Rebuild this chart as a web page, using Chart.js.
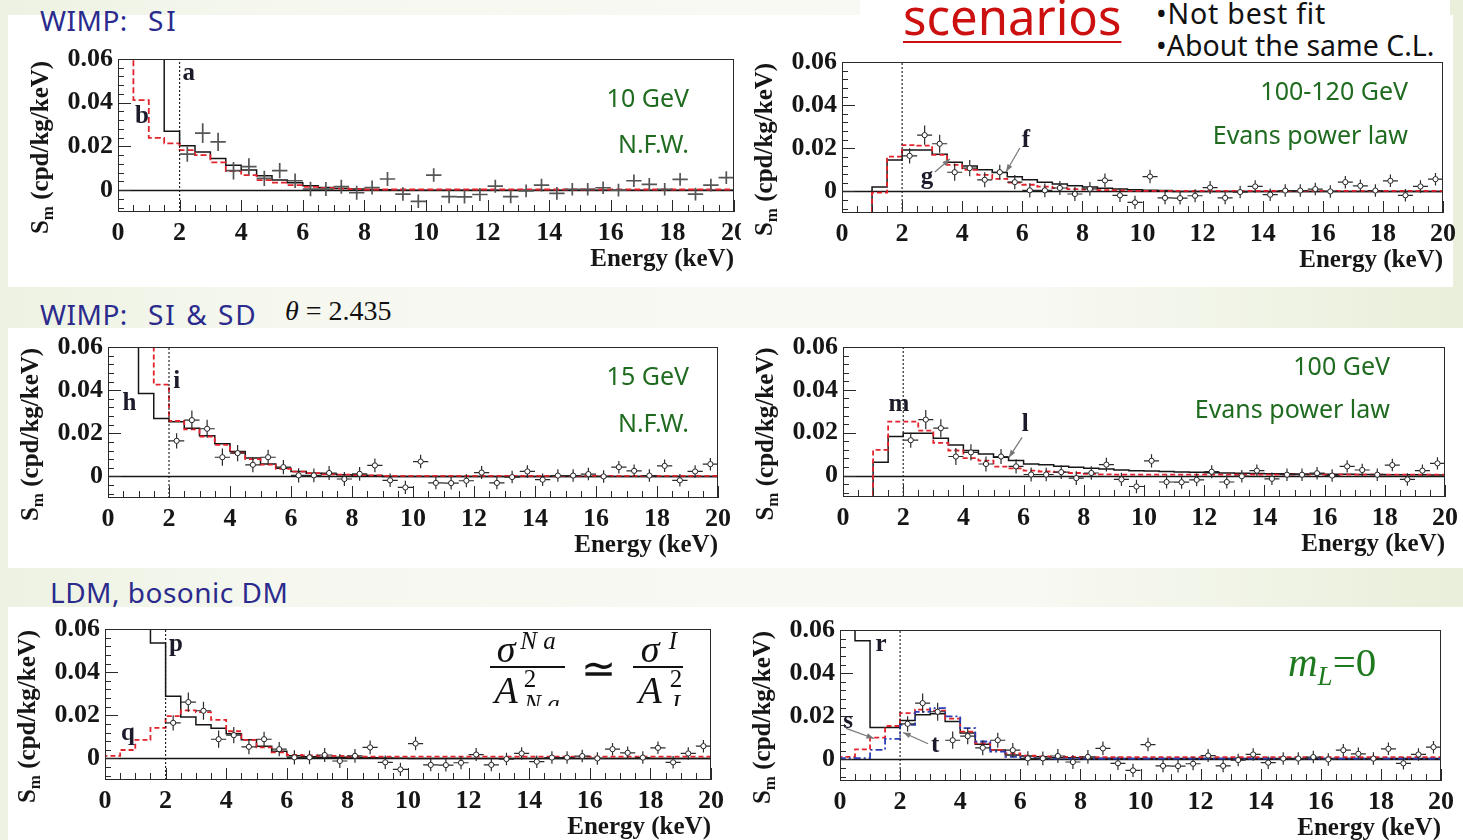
<!DOCTYPE html>
<html>
<head>
<meta charset="utf-8">
<script src="https://cdn.jsdelivr.net/npm/chart.js@4.4.1/dist/chart.umd.min.js"></script>
<style>
  body { margin: 0; width: 1463px; height: 840px; overflow: hidden; position: relative;
         background: linear-gradient(90deg, #edf2e2 0%, #f6f8f0 20%, #f8f9f3 70%, #e9efda 100%);
         font-family: "Noto Sans", sans-serif; }
  .band { position: absolute; background: #fff; }
  .panel { position: absolute; }
  .heading { position: absolute; color: #2b2b8e; font-size: 28px; line-height: 34px; white-space: pre; letter-spacing: 0.5px; }
  .tag { position: absolute; color: #1f6b1f; font-size: 25px; line-height: 30px; white-space: nowrap; text-align: right; }
  .math { position: absolute; font-family: "Liberation Serif", serif; color: #111; }
  .formula { position: absolute; left: 480px; top: 620px; width: 220px; height: 86px; overflow: hidden;
             font-family: "Liberation Serif", serif; color: #111; }
  .formula div { position: absolute; white-space: nowrap; transform: translate(-50%, -50%); }
  .formula .bar { transform: none; height: 2px; background: #111; }
</style>
</head>
<body>
<div class="band" style="left:8px;top:15px;width:1445px;height:272px"></div>
<div class="band" style="left:860px;top:0;width:590px;height:20px"></div>
<div class="band" style="left:8px;top:328px;width:1455px;height:240px"></div>
<div class="band" style="left:8px;top:607px;width:1455px;height:233px"></div>

<div class="heading" style="left:40px;top:3px">WIMP:</div>
<div class="heading" style="left:148px;top:3px;letter-spacing:3px">SI</div>
<div class="heading" style="left:40px;top:297px">WIMP:</div>
<div class="heading" style="left:148px;top:297px;letter-spacing:2px">SI &amp; SD</div>
<div class="math" style="left:285px;top:295px;font-size:28px"><i>θ</i> = 2.435</div>
<div class="heading" style="left:50px;top:575px">LDM, bosonic DM</div>
<div style="position:absolute;left:903px;top:-12px;color:#cc1010;font-size:49px;line-height:56px;text-decoration:underline;text-decoration-thickness:2px;text-underline-offset:6px">scenarios</div>
<div style="position:absolute;left:1156px;top:-5px;font-size:28.5px;line-height:36px;color:#111;letter-spacing:0.8px">•Not best fit</div>
<div style="position:absolute;left:1156px;top:27px;font-size:28.5px;line-height:36px;color:#111">•About the same C.L.</div>

<canvas id="c1" class="panel"></canvas>
<canvas id="c2" class="panel"></canvas>
<canvas id="c3" class="panel"></canvas>
<canvas id="c4" class="panel"></canvas>
<canvas id="c5" class="panel"></canvas>
<canvas id="c6" class="panel"></canvas>

<div class="tag" style="right:774px;top:82px">10 GeV</div>
<div class="tag" style="right:774px;top:128px">N.F.W.</div>
<div class="tag" style="right:55px;top:75px">100-120 GeV</div>
<div class="tag" style="right:55px;top:119px">Evans power law</div>
<div class="tag" style="right:774px;top:360px">15 GeV</div>
<div class="tag" style="right:774px;top:407px">N.F.W.</div>
<div class="tag" style="right:73px;top:350px">100 GeV</div>
<div class="tag" style="right:73px;top:393px">Evans power law</div>

<div class="formula">
  <div style="left:26px;top:29px;font-size:38px"><i>σ</i></div>
  <div style="left:58px;top:21px;font-size:25px"><i>N a</i></div>
  <div class="bar" style="left:10px;top:46px;width:75px"></div>
  <div style="left:26px;top:70px;font-size:38px"><i>A</i></div>
  <div style="left:50px;top:59px;font-size:25px">2</div>
  <div style="left:62px;top:84px;font-size:25px"><i>N a</i></div>
  <div style="left:118px;top:48px;font-size:42px">≃</div>
  <div style="left:170px;top:29px;font-size:38px"><i>σ</i></div>
  <div style="left:193px;top:21px;font-size:25px"><i>I</i></div>
  <div class="bar" style="left:153px;top:46px;width:50px"></div>
  <div style="left:170px;top:70px;font-size:38px"><i>A</i></div>
  <div style="left:196px;top:59px;font-size:25px">2</div>
  <div style="left:196px;top:84px;font-size:25px"><i>I</i></div>
</div>
<div class="math" style="left:1288px;top:638px;font-size:41px;color:#1f7a1f;white-space:nowrap"><i>m</i><sub style="font-size:27px"><i>L</i></sub>=0</div>

<script>
// energy binning (keV): lower edges of the 0.5 keV bins plus the final upper edge
const binEdges = [0, 0.5, 1, 1.5, 2, 2.5, 3, 3.5, 4, 4.5, 5, 5.5, 6, 6.5, 7, 7.5, 8, 8.5, 9, 9.5,
                  10, 10.5, 11, 11.5, 12, 12.5, 13, 13.5, 14, 14.5, 15, 15.5, 16, 16.5, 17, 17.5, 18, 18.5, 19, 19.5, 20];

// measured modulation amplitudes Sm (cpd/kg/keV)
const pointEnergy = [2.25, 2.75, 3.25, 3.75, 4.25, 4.75, 5.25, 5.75, 6.25, 6.75, 7.25, 7.75,
                     8.25, 8.75, 9.25, 9.75, 10.25, 10.75, 11.25, 11.75, 12.25, 12.75, 13.25, 13.75,
                     14.25, 14.75, 15.25, 15.75, 16.25, 16.75, 17.25, 17.75, 18.25, 18.75, 19.25, 19.75];
const modAmplitude = [0.0165, 0.0261, 0.0221, 0.0089, 0.0108, 0.0054, 0.0089, 0.0043, 0.0005, 0.0005, 0.0016, -0.0012,
                      0.0012, 0.0051, -0.0018, -0.0051, 0.0069, -0.0030, -0.0031, -0.0020, 0.0018, -0.0030, -0.0003, 0.0023,
                      -0.0015, 0.0004, 0.0004, 0.0011, 0.0000, 0.0043, 0.0026, 0.0004, 0.0049, -0.0018, 0.0023, 0.0057];
const modError = [0.0035, 0.0045, 0.0042, 0.0040, 0.0038, 0.0035, 0.0035, 0.0033, 0.0033, 0.0032, 0.0032, 0.0032,
                  0.0032, 0.0032, 0.0031, 0.0031, 0.0031, 0.0030, 0.0030, 0.0030, 0.0030, 0.0030, 0.0029, 0.0029,
                  0.0029, 0.0029, 0.0029, 0.0029, 0.0029, 0.0029, 0.0029, 0.0029, 0.0029, 0.0029, 0.0029, 0.0029];

// expected Sm per bin for each scenario (values above 0.06 run off the top, -0.02 = below threshold)
const si10Solid = [0.09, 0.09, 0.09, 0.027, 0.0203, 0.0175, 0.0145, 0.0114, 0.0092, 0.0066,
                   0.0046, 0.0034, 0.002, 0.0012, 0.0008, 0.0005, 0.0003, 0.0002, 0, 0,
                   0, 0, 0, 0, 0, 0, 0, 0, 0, 0,
                   0, 0, 0, 0, 0, 0, 0, 0, 0, 0];
const si10Dashed = [0.09, 0.0412, 0.0239, 0.0214, 0.0183, 0.016, 0.0127, 0.0087, 0.0069, 0.0046,
                    0.0034, 0.0023, 0.0015, 0.001, 0.0007, 0.0005, 0.0003, 0.0003, 0.0003, 0.0003,
                    0.0003, 0.0003, 0.0003, 0.0003, 0.0003, 0.0003, 0.0003, 0.0003, 0.0003, 0.0003,
                    0.0003, 0.0003, 0.0003, 0.0003, 0.0003, 0.0003, 0.0003, 0.0003, 0.0003, 0.0003];
const si100Solid = [-0.02, -0.02, 0.002, 0.0146, 0.0192, 0.0192, 0.0172, 0.0135, 0.0118, 0.01,
                    0.0088, 0.0068, 0.0054, 0.0043, 0.0034, 0.0026, 0.002, 0.0015, 0.0011, 0.0008,
                    0.0006, 0.0004, 0, 0, 0, 0, 0, 0, 0, 0,
                    0, 0, 0, 0, 0, 0, 0, 0, 0, 0];
const si100Dashed = [-0.02, -0.02, -0.0006, 0.0161, 0.0215, 0.0212, 0.0169, 0.0123, 0.01, 0.0077,
                     0.0058, 0.0041, 0.0031, 0.0022, 0.0015, 0.0011, 0.0008, 0.0006, 0.0005, 0.0003,
                     0.0003, 0.0003, 0.0003, 0.0003, 0.0003, 0.0003, 0.0003, 0.0003, 0.0003, 0.0003,
                     0.0003, 0.0003, 0.0003, 0.0003, 0.0003, 0.0003, 0.0003, 0.0003, 0.0003, 0.0003];
const sisd15Solid = [0.09, 0.09, 0.0385, 0.0269, 0.0254, 0.0223, 0.0189, 0.0151, 0.0115, 0.0085,
                     0.0058, 0.0038, 0.0023, 0.0015, 0.0011, 0.0008, 0.0005, 0.0004, 0, 0,
                     0, 0, 0, 0, 0, 0, 0, 0, 0, 0,
                     0, 0, 0, 0, 0, 0, 0, 0, 0, 0];
const sisd15Dashed = [0.09, 0.09, 0.09, 0.0426, 0.0257, 0.0218, 0.0185, 0.0146, 0.011, 0.008,
                      0.0055, 0.0035, 0.0022, 0.0015, 0.001, 0.0008, 0.0006, 0.0005, 0.0003, 0.0003,
                      0.0003, 0.0003, 0.0003, 0.0003, 0.0003, 0.0003, 0.0003, 0.0003, 0.0003, 0.0003,
                      0.0003, 0.0003, 0.0003, 0.0003, 0.0003, 0.0003, 0.0003, 0.0003, 0.0003, 0.0003];
const sisd100Solid = [-0.02, -0.02, 0.0062, 0.0182, 0.0198, 0.0198, 0.0174, 0.0143, 0.0117, 0.0101,
                      0.0086, 0.007, 0.0054, 0.005, 0.0044, 0.0039, 0.0034, 0.0031, 0.0026, 0.0023,
                      0.0021, 0.0019, 0.0017, 0.0015, 0.0013, 0.0012, 0.0011, 0.001, 0.0009, 0.0008,
                      0.0007, 0.0007, 0.0006, 0.0006, 0.0005, 0.0005, 0.0004, 0.0004, 0.0004, 0.0003];
const sisd100Dashed = [-0.02, -0.02, 0.012, 0.0252, 0.0252, 0.021, 0.0153, 0.0117, 0.0081, 0.007,
                       0.0042, 0.0034, 0.0023, 0.0019, 0.0016, 0.0012, 0.0008, 0.0006, 0.0004, 0.0004,
                       0.0004, 0.0004, 0.0004, 0.0004, 0.0004, 0.0004, 0.0004, 0.0004, 0.0004, 0.0004,
                       0.0004, 0.0004, 0.0004, 0.0004, 0.0004, 0.0004, 0.0004, 0.0004, 0.0004, 0.0004];
const ldmSolid = [0.09, 0.09, 0.09, 0.0535, 0.0288, 0.0192, 0.0156, 0.014, 0.0114, 0.0087,
                  0.0056, 0.0033, 0.0012, 0.0008, 0.0006, 0.0005, 0.0004, 0.0003, 0.0002, 0.0001,
                  0, 0, 0, 0, 0, 0, 0, 0, 0, 0,
                  0, 0, 0, 0, 0, 0, 0, 0, 0, 0];
const ldmDashed = [0.0012, 0.0039, 0.0086, 0.0142, 0.0196, 0.0223, 0.0215, 0.0179, 0.0126, 0.0086,
                   0.0051, 0.0028, 0.0016, 0.0014, 0.0012, 0.0012, 0.0008, 0.0008, 0.0008, 0.0008,
                   0.0008, 0.0008, 0.0008, 0.0008, 0.0008, 0.0008, 0.0008, 0.0008, 0.0008, 0.0008,
                   0.0008, 0.0008, 0.0008, 0.0008, 0.0008, 0.0008, 0.0008, 0.0008, 0.0008, 0.0008];
const mlSolid = [0.09, 0.055, 0.0148, 0.0148, 0.0181, 0.0207, 0.0212, 0.0176, 0.0122, 0.007,
                 0.0044, 0.002, 0.0016, 0.0012, 0.0008, 0.0008, 0.0006, 0.0005, 0.0004, 0.0004,
                 0.0004, 0.0004, 0.0004, 0.0004, 0.0004, 0.0004, 0.0004, 0.0004, 0.0004, 0.0004,
                 0.0004, 0.0004, 0.0004, 0.0004, 0.0004, 0.0004, 0.0004, 0.0004, 0.0004, 0.0004];
const mlDashed = [0.0012, 0.0047, 0.0101, 0.0155, 0.0215, 0.0231, 0.0226, 0.0189, 0.0129, 0.0075,
                  0.0044, 0.0028, 0.0017, 0.0014, 0.0012, 0.0012, 0.001, 0.001, 0.001, 0.001,
                  0.001, 0.001, 0.001, 0.001, 0.001, 0.001, 0.001, 0.001, 0.001, 0.001,
                  0.001, 0.001, 0.001, 0.001, 0.001, 0.001, 0.001, 0.001, 0.001, 0.001];
const mlDashDot = [0.0006, 0.0006, 0.0044, 0.0095, 0.016, 0.022, 0.0238, 0.02, 0.0145, 0.0083,
                   0.0036, 0.0012, 0.0006, 0.0004, 0.0004, 0.0004, 0.0004, 0.0004, 0.0004, 0.0004,
                   0.0004, 0.0004, 0.0004, 0.0004, 0.0004, 0.0004, 0.0004, 0.0004, 0.0004, 0.0004,
                   0.0004, 0.0004, 0.0004, 0.0004, 0.0004, 0.0004, 0.0004, 0.0004, 0.0004, 0.0004];

const threshold = 2; // keV, dotted line
const yTickValues = [0, 0.02, 0.04, 0.06];

const RED = '#e3232c', BLUE = '#2b3fb5', INK = '#161616';
const serif = '"Liberation Serif", "DejaVu Serif", serif';

// histogram outline: start on the zero baseline, one point per lower edge, close at 20 keV
function stepData(values) {
  const pts = [{ x: binEdges[0], y: 0 }];
  values.forEach((v, i) => pts.push({ x: binEdges[i], y: v }));
  pts.push({ x: binEdges[values.length], y: values[values.length - 1] });
  return pts;
}

function histo(values, color, dash) {
  return { data: stepData(values), stepped: 'before', borderColor: color, borderWidth: dash ? 1.8 : 1.5,
           borderDash: dash || [], pointRadius: 0, fill: false, order: 2 };
}

// inward ticks, frame and zero line in the ROOT style
const framePlugin = {
  id: 'frame',
  beforeDatasetsDraw(chart) {
    const { ctx, chartArea: a, scales: { y } } = chart;
    const py = Math.round(y.getPixelForValue(0)) + 0.5;
    ctx.save();
    ctx.strokeStyle = INK; ctx.lineWidth = 1.3;
    ctx.beginPath(); ctx.moveTo(a.left, py); ctx.lineTo(a.right, py); ctx.stroke();
    ctx.restore();
  },
  afterDatasetsDraw(chart) {
    const { ctx, chartArea: a, scales: { x, y } } = chart;
    ctx.save();
    ctx.strokeStyle = '#2a2a2a'; ctx.lineWidth = 1;
    ctx.strokeRect(a.left + 0.5, a.top + 0.5, a.width - 1, a.height - 1);
    ctx.beginPath();
    for (let k = -2; k <= 15; k++) {
      const py = Math.round(y.getPixelForValue(k * 0.004)) + 0.5;
      ctx.moveTo(a.left, py); ctx.lineTo(a.left + (k % 5 === 0 ? 13 : 6), py);
    }
    for (let k = 0; k <= 40; k++) {
      const px = Math.round(x.getPixelForValue(k * 0.5)) + 0.5;
      ctx.moveTo(px, a.bottom); ctx.lineTo(px, a.bottom - (k % 4 === 0 ? 12 : 7));
    }
    ctx.stroke();
    ctx.restore();
  }
};

// crosses: ±0.25 keV bin width and the Sm uncertainty
const errorBarPlugin = {
  id: 'errorBars',
  beforeDatasetDraw(chart, args) {
    const ds = chart.data.datasets[args.index];
    if (!ds.errors) return;
    const { ctx, chartArea: a, scales: { x, y } } = chart;
    ctx.save();
    ctx.beginPath(); ctx.rect(a.left, a.top, a.width, a.height); ctx.clip();
    ctx.strokeStyle = ds.crossColor; ctx.lineWidth = ds.crossWidth;
    ctx.beginPath();
    ds.data.forEach((p, i) => {
      const py = y.getPixelForValue(p.y), px = x.getPixelForValue(p.x);
      ctx.moveTo(x.getPixelForValue(p.x - 0.25), py); ctx.lineTo(x.getPixelForValue(p.x + 0.25), py);
      ctx.moveTo(px, y.getPixelForValue(p.y - ds.errors[i])); ctx.lineTo(px, y.getPixelForValue(p.y + ds.errors[i]));
    });
    ctx.stroke();
    ctx.restore();
  }
};

// curve letters, pointer arrows and the rotated Sm axis title
const labelPlugin = {
  id: 'curveLabels',
  afterDraw(chart, args, opts) {
    const { ctx, chartArea: a, scales: { x, y } } = chart;
    ctx.save();
    ctx.fillStyle = '#1b1b2b';
    ctx.font = 'bold 25px ' + serif;
    ctx.textAlign = 'center'; ctx.textBaseline = 'middle';
    (opts.letters || []).forEach(([t, ex, sm]) => ctx.fillText(t, x.getPixelForValue(ex), y.getPixelForValue(sm)));
    ctx.strokeStyle = '#777'; ctx.fillStyle = '#777'; ctx.lineWidth = 1.2;
    (opts.arrows || []).forEach(([x0, y0, x1, y1]) => {
      const ax = x.getPixelForValue(x0), ay = y.getPixelForValue(y0);
      const bx = x.getPixelForValue(x1), by = y.getPixelForValue(y1);
      const ang = Math.atan2(by - ay, bx - ax);
      ctx.beginPath(); ctx.moveTo(ax, ay); ctx.lineTo(bx, by); ctx.stroke();
      ctx.beginPath(); ctx.moveTo(bx, by);
      ctx.lineTo(bx - 8 * Math.cos(ang - 0.35), by - 8 * Math.sin(ang - 0.35));
      ctx.lineTo(bx - 8 * Math.cos(ang + 0.35), by - 8 * Math.sin(ang + 0.35));
      ctx.closePath(); ctx.fill();
    });
    // axis title S_m (cpd/kg/keV)
    ctx.translate(a.left - 76, (a.top + a.bottom) / 2 + 12);
    ctx.rotate(-Math.PI / 2);
    ctx.fillStyle = INK; ctx.textAlign = 'left';
    const big = 'bold 25px ' + serif, small = 'bold 17px ' + serif;
    const rest = ' (cpd/kg/keV)';
    ctx.font = big; const wS = ctx.measureText('S').width, wR = ctx.measureText(rest).width;
    ctx.font = small; const wm = ctx.measureText('m').width;
    let cx = -(wS + wm + wR) / 2;
    ctx.font = big; ctx.fillText('S', cx, 0); cx += wS;
    ctx.font = small; ctx.fillText('m', cx, 7); cx += wm;
    ctx.font = big; ctx.fillText(rest, cx, 0);
    ctx.restore();
  }
};

const panels = [
  { id: 'c1', l: 118, t: 59, r: 734, b: 212, clipRight: 741, plain: true,
    lines: [histo(si10Dashed, RED, [6, 3]), histo(si10Solid, INK)],
    letters: [['a', 2.3, 0.0535], ['b', 0.78, 0.0339]], arrows: [] },
  { id: 'c2', l: 842, t: 62, r: 1443, b: 213,
    lines: [histo(si100Dashed, RED, [5, 3]), histo(si100Solid, INK)],
    letters: [['f', 6.12, 0.0238], ['g', 2.83, 0.0063]],
    arrows: [[5.92, 0.0201, 5.46, 0.0091], [3.09, 0.009, 3.59, 0.015]] },
  { id: 'c3', l: 108, t: 347, r: 718, b: 498,
    lines: [histo(sisd15Dashed, RED, [5, 3]), histo(sisd15Solid, INK)],
    letters: [['h', 0.7, 0.034], ['i', 2.25, 0.0442]], arrows: [] },
  { id: 'c4', l: 843, t: 347, r: 1445, b: 497,
    lines: [histo(sisd100Dashed, RED, [5, 3]), histo(sisd100Solid, INK)],
    letters: [['m', 1.86, 0.0332], ['l', 6.05, 0.0238]],
    arrows: [[5.95, 0.0178, 5.51, 0.0084]] },
  { id: 'c5', l: 105, t: 629, r: 711, b: 780,
    lines: [histo(ldmDashed, RED, [5, 3]), histo(ldmSolid, INK)],
    letters: [['p', 2.34, 0.0527], ['q', 0.76, 0.0115]], arrows: [] },
  { id: 'c6', l: 840, t: 630, r: 1441, b: 781,
    lines: [histo(mlDashDot, BLUE, [7, 3, 2, 3]), histo(mlDashed, RED, [5, 3]), histo(mlSolid, INK)],
    letters: [['r', 1.37, 0.0531], ['s', 0.27, 0.0176], ['t', 3.17, 0.0064]],
    arrows: [[0.2, 0.0144, 1.13, 0.0097], [2.93, 0.0073, 2.1, 0.0125]] }
];

const tickFont = { family: serif, weight: 'bold', size: 26 };
const PAD = 26; // room above and right of the frame for the outer tick labels

panels.forEach(p => {
  const canvas = document.getElementById(p.id);
  const w = 108 + (p.r - p.l) + PAD, h = PAD + (p.b - p.t) + 72;
  canvas.width = w; canvas.height = h;

  const points = {
    data: pointEnergy.map((e, i) => ({ x: e, y: modAmplitude[i] })),
    errors: modError,
    crossColor: p.plain ? '#555' : '#2a2a2a',
    crossWidth: p.plain ? 1.7 : 1.2,
    showLine: false,
    pointRadius: p.plain ? 0 : 2.6,
    pointBorderWidth: 1,
    pointBorderColor: '#222',
    pointBackgroundColor: '#fff',
    order: 0
  };
  const thresholdLine = {
    data: [{ x: threshold, y: -0.01 }, { x: threshold, y: 0.06 }],
    borderColor: INK, borderWidth: 1.1, borderDash: [2, 2], pointRadius: 0, order: 1
  };

  const chart = new Chart(canvas.getContext('2d'), {
    type: 'line',
    data: { datasets: [...p.lines, thresholdLine, points] },
    options: {
      responsive: false,
      animation: false,
      devicePixelRatio: 1,
      layout: { padding: { top: PAD, right: PAD, left: 0, bottom: 0 } },
      plugins: {
        legend: { display: false },
        tooltip: { enabled: false },
        curveLabels: { letters: p.letters, arrows: p.arrows }
      },
      scales: {
        x: {
          type: 'linear', min: 0, max: 20,
          grid: { display: false, drawTicks: false }, border: { display: false },
          ticks: { stepSize: 2, padding: 6, font: tickFont, color: INK, maxRotation: 0, autoSkip: false },
          title: { display: true, text: 'Energy (keV)', align: 'end', color: INK,
                   font: { family: serif, weight: 'bold', size: 25 }, padding: { top: 0, bottom: 9 } },
          afterFit(scale) { scale.height = 72; }
        },
        y: {
          min: -0.01, max: 0.06,
          grid: { display: false, drawTicks: false }, border: { display: false },
          afterBuildTicks(scale) { scale.ticks = yTickValues.map(v => ({ value: v })); },
          ticks: {
            padding: 5, font: tickFont, color: INK, autoSkip: false,
            callback: v => (v === 0 ? '0' : v.toFixed(2))
          },
          afterFit(scale) { scale.width = 108; }
        }
      }
    },
    plugins: [framePlugin, errorBarPlugin, labelPlugin]
  });

  // place the canvas so the plot frame lands on its page position
  const a = chart.chartArea;
  const left = p.l - a.left, top = p.t - a.top;
  canvas.style.left = left + 'px';
  canvas.style.top = top + 'px';
  if (p.clipRight) canvas.style.clipPath = 'inset(0 ' + (left + w - p.clipRight) + 'px 0 0)';
});
</script>
</body>
</html>
